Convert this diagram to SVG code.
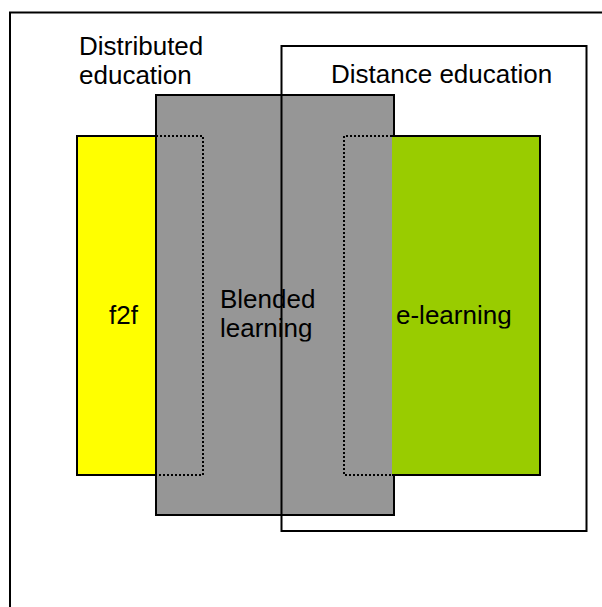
<svg xmlns="http://www.w3.org/2000/svg" width="602" height="607" viewBox="0 0 602 607">
  <style>
    .box { stroke: #000; stroke-width: 2; }
    .dot { fill: none; stroke: #000; stroke-width: 2; stroke-dasharray: 2 2; }
    .lbl { font-family: "Liberation Sans", Arial, sans-serif; font-size: 26px; fill: #000; }
  </style>
  <defs>
    <clipPath id="clipBlended"><rect x="156" y="270" width="238" height="71.5"/></clipPath>
    <clipPath id="clipElearn"><rect x="392" y="280" width="148" height="48.5"/></clipPath>
  </defs>
  <rect width="602" height="607" fill="#fff"/>

  <!-- outer frame (extends past the canvas on the right and bottom) -->
  <g id="frame">
    <path d="M10 620 V12.5 H620" fill="none" stroke="#000" stroke-width="2"/>
  </g>

  <!-- face-to-face block -->
  <g id="f2f">
    <rect class="box" x="77" y="136" width="79" height="339" fill="#ffff00"/>
  </g>

  <!-- blended learning block -->
  <g id="blended">
    <rect class="box" x="156" y="95" width="238" height="420" fill="#969696"/>
  </g>

  <!-- e-learning block: left side is the dotted overlap edge -->
  <g id="elearning">
    <rect x="392" y="136" width="148" height="339" fill="#99cc00"/>
    <path d="M392 136 H540 V475 H392" fill="none" stroke="#000" stroke-width="2"/>
  </g>

  <!-- overlap zones -->
  <g id="overlaps">
    <path class="dot" d="M156 136 H203 V475 H156"/>
    <path class="dot" d="M392 136 H344 V475 H392"/>
  </g>

  <!-- distance education outline -->
  <g id="distance">
    <rect x="281.5" y="46" width="305" height="485" fill="none" stroke="#000" stroke-width="2"/>
  </g>

  <!-- labels -->
  <g id="labels">
    <text class="lbl" x="79" y="55">Distributed</text>
    <text class="lbl" x="79" y="84">education</text>
    <text class="lbl" x="331" y="83">Distance education</text>
    <text class="lbl" x="109" y="324">f2f</text>
    <g clip-path="url(#clipBlended)">
      <text class="lbl" x="220" y="308">Blended</text>
      <text class="lbl" x="220" y="337">learning</text>
    </g>
    <g clip-path="url(#clipElearn)">
      <text class="lbl" x="396" y="324">e-learning</text>
    </g>
  </g>
</svg>
